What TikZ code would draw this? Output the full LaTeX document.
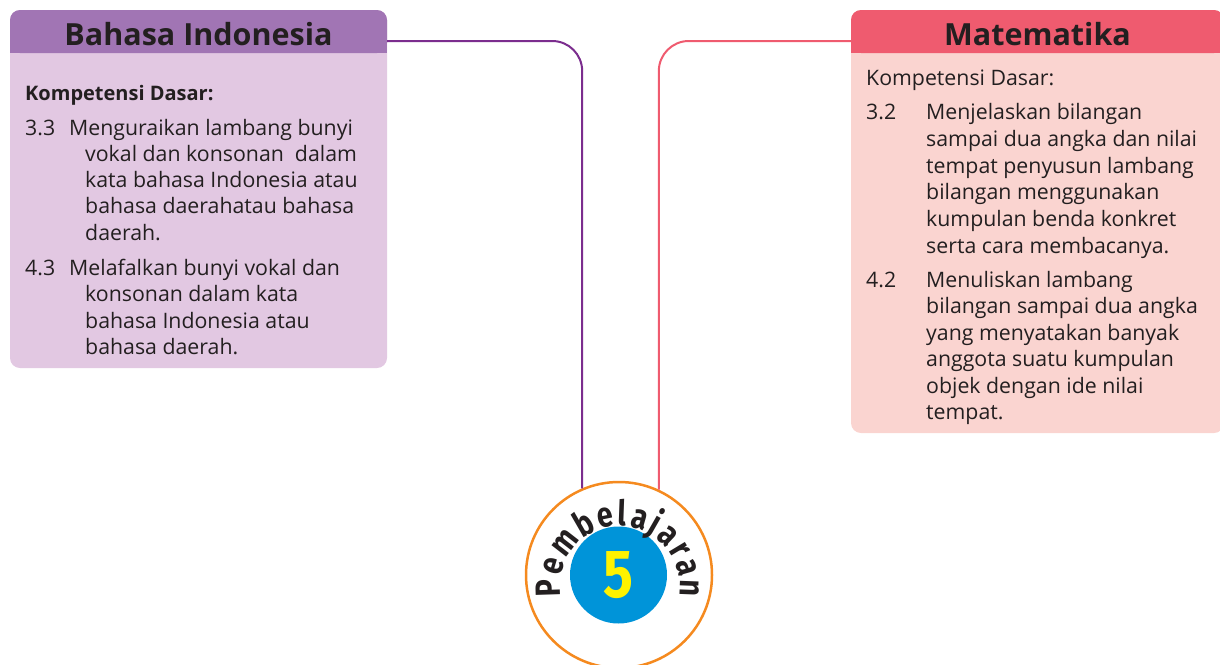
\documentclass[tikz,border=0pt]{standalone}
\usepackage{fontspec}
\setmainfont{Open Sans}
\newfontfamily\circfont{Fira Sans}[FakeStretch=0.82]
\usetikzlibrary{decorations.text,calc}
\definecolor{hdrL}{HTML}{A175B4}
\definecolor{bodyL}{HTML}{E2C8E2}
\definecolor{lineL}{HTML}{7B2D8E}
\definecolor{hdrR}{HTML}{EF5B6F}
\definecolor{bodyR}{HTML}{FAD4D0}
\definecolor{lineR}{HTML}{EF5B6F}
\definecolor{ringO}{HTML}{F58A1F}
\definecolor{blueC}{HTML}{0094D9}
\definecolor{yellowC}{HTML}{FFF200}
\definecolor{ink}{HTML}{231F20}
\begin{document}
\begin{tikzpicture}[x=1pt,y=1pt,
  box/.style={rectangle, rounded corners=10pt, inner sep=0pt, outer sep=0pt, anchor=north west},
  ln/.style={anchor=base west, inner sep=0pt, text=ink, font=\fontsize{21.3}{26}\selectfont},
  lnb/.style={ln, font=\bfseries\fontsize{20}{26}\selectfont},
  ttl/.style={anchor=base, inner sep=0pt, text=ink, font=\bfseries\fontsize{30.5}{30}\selectfont},
  conn/.style={line width=2pt, rounded corners=30pt}]
\useasboundingbox (0,0) rectangle (1220,-664);

% ---------- left box ----------
\node[box, fill=bodyL, minimum width=377, minimum height=358] (bi) at (10,-10) {};
\node[box, fill=hdrL, minimum width=377, minimum height=43] (bihead) at (10,-10) {};
\fill[hdrL] (bihead.west) rectangle (bihead.south east);
\node[ttl] (bititle) at (198.5,-45) {Bahasa Indonesia};
\node[lnb] (bikd) at (25,-100) {Kompetensi Dasar:};
\node[ln] (bin1) at (25,-135) {3.3};
\node[ln] (bia1) at (69,-135) {Menguraikan lambang bunyi};
\node[ln] (bia2) at (85,-161.5) {vokal dan konsonan\ \ dalam};
\node[ln] (bia3) at (85,-187.5) {kata bahasa Indonesia atau};
\node[ln] (bia4) at (85,-213.5) {bahasa daerahatau bahasa};
\node[ln] (bia5) at (85,-240) {daerah.};
\node[ln] (bin2) at (25,-275) {4.3};
\node[ln] (bib1) at (69,-275) {Melafalkan bunyi vokal dan};
\node[ln] (bib2) at (85,-301.5) {konsonan dalam kata};
\node[ln] (bib3) at (85,-328) {bahasa Indonesia atau};
\node[ln] (bib4) at (85,-354.5) {bahasa daerah.};

% ---------- right box ----------
\node[box, fill=bodyR, minimum width=373, minimum height=423] (mt) at (851,-10) {};
\node[box, fill=hdrR, minimum width=373, minimum height=43] (mthead) at (851,-10) {};
\fill[hdrR] (mthead.west) rectangle (mthead.south east);
\node[ttl] (mttitle) at (1037.5,-45) {Matematika};
\node[ln] (mtkd) at (866,-85) {Kompetensi Dasar:};
\node[ln] (mtn1) at (866,-119) {3.2};
\node[ln] (mta1) at (926,-119) {Menjelaskan bilangan};
\node[ln] (mta2) at (926,-146) {sampai dua angka dan nilai};
\node[ln] (mta3) at (926,-173) {tempat penyusun lambang};
\node[ln] (mta4) at (926,-199.5) {bilangan menggunakan};
\node[ln] (mta5) at (926,-226) {kumpulan benda konkret};
\node[ln] (mta6) at (926,-253) {serta cara membacanya.};
\node[ln] (mtn2) at (866,-287) {4.2};
\node[ln] (mtb1) at (926,-287) {Menuliskan lambang};
\node[ln] (mtb2) at (926,-313.5) {bilangan sampai dua angka};
\node[ln] (mtb3) at (926,-340) {yang menyatakan banyak};
\node[ln] (mtb4) at (926,-366.5) {anggota suatu kumpulan};
\node[ln] (mtb5) at (926,-393) {objek dengan ide nilai};
\node[ln] (mtb6) at (926,-419.5) {tempat.};

% ---------- centre circle ----------
\node[circle, draw=ringO, line width=2.5pt, fill=white, minimum size=186, inner sep=0pt] (circ) at (619,-575) {};
\node[circle, fill=blueC, minimum size=97, inner sep=0pt, text=yellowC,
      font=\circfont\bfseries\fontsize{68}{68}\selectfont] (num) at (618.5,-575) {5};
\coordinate (arcc) at (620,-586);
\path[decorate, decoration={text along path, text align={fit to path},
   text={|\circfont\bfseries\fontsize{35}{35}\selectfont\color{ink}|Pembelajaran}}]
   ($(arcc)+(190:60)$) arc[start angle=190, end angle=-10, radius=60];

% ---------- connectors ----------
\draw[conn, draw=lineL] ($(bihead.east)+(0,-9.5)$) -| (circ.113.4);
\draw[conn, draw=lineR] ($(mthead.west)+(0,-9.5)$) -| (circ.65.2);
\end{tikzpicture}
\end{document}
